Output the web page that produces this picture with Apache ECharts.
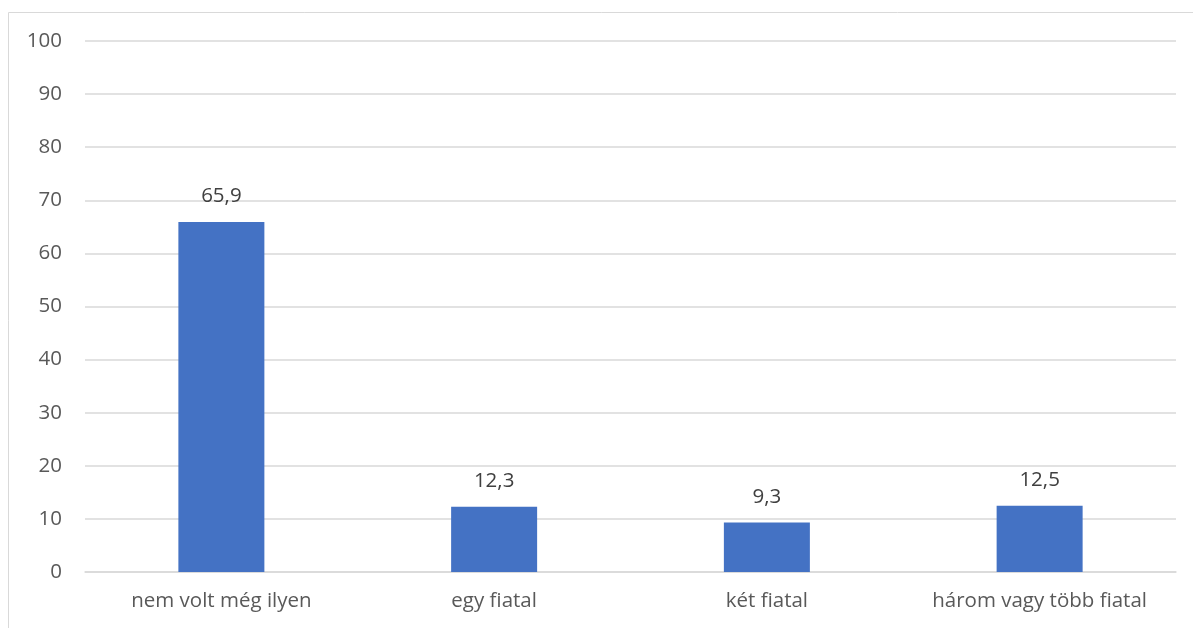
<!DOCTYPE html>
<html><head><meta charset="utf-8">
<script src="https://cdn.jsdelivr.net/npm/echarts@6/dist/echarts.min.js"></script>
<style>html,body{margin:0;padding:0;background:#fff}#c{width:1193px;height:628px}</style>
</head><body><div id="c"></div>
<script>
const categories = ["nem volt még ilyen", "egy fiatal", "két fiatal", "három vagy több fiatal"];
const values = [65.9, 12.3, 9.3, 12.5];
const yTicks = [0, 10, 20, 30, 40, 50, 60, 70, 80, 90, 100];

const chart = echarts.init(document.getElementById('c'), null, {renderer: 'canvas'});
const font = '"Open Sans", "Noto Sans", sans-serif';
chart.setOption({
  animation: false,
  textStyle: {fontFamily: font},
  graphic: [{type: 'rect', shape: {x: 8.5, y: 12.5, width: 1300, height: 800}, style: {fill: 'none', stroke: '#d9d9d9', lineWidth: 1}, silent: true}],
  grid: {left: 85, right: 17, top: 41, bottom: 56},
  xAxis: {
    type: 'category', data: categories,
    axisLine: {show: true, lineStyle: {color: '#d9d9d9', width: 1.5}},
    axisTick: {show: false},
    axisLabel: {color: '#595959', fontSize: 20.5, fontFamily: font, margin: 19, interval: 0, hideOverlap: false}
  },
  yAxis: {
    type: 'value', min: yTicks[0], max: yTicks[yTicks.length - 1], interval: 10,
    axisLine: {show: false}, axisTick: {show: false},
    splitLine: {lineStyle: {color: '#d9d9d9', width: 1.5}},
    axisLabel: {color: '#595959', fontSize: 20.5, fontFamily: font, margin: 23}
  },
  series: [{
    type: 'bar', data: values, barWidth: 86,
    itemStyle: {color: '#4472c4'},
    label: {show: true, position: 'top', distance: 15, color: '#404040', fontSize: 20.5, fontFamily: font,
      formatter: p => String(p.value).replace('.', ',')}
  }]
});
</script></body></html>
